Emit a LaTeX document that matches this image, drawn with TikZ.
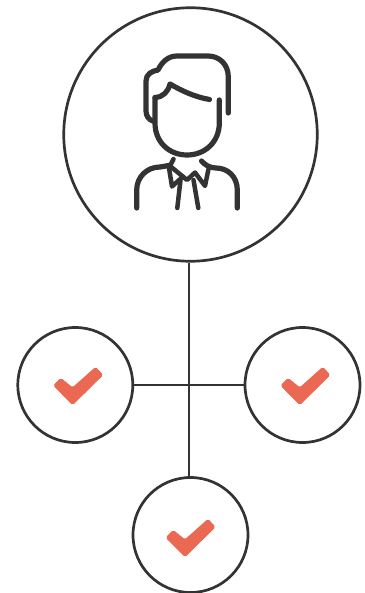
\documentclass[tikz,border=0pt]{standalone}
\usepackage{xcolor}
\usepackage{tikz}
\usetikzlibrary{calc}
\definecolor{koyuGri}{HTML}{333333}
\definecolor{tikKirmizi}{HTML}{EB6853}
\tikzset{
  halka/.style={draw=koyuGri,circle,line width=2.7pt,inner sep=0pt,fill=white},
  baglanti/.style={draw=koyuGri,line width=2.7pt},
  ikon/.style={draw=koyuGri,line width=5.2pt,line cap=round,line join=round},
  tik/.style={fill=tikKirmizi,draw=tikKirmizi,line width=1pt,rounded corners=1.6pt}
}

\begin{document}
\begin{tikzpicture}[x=1pt,y=-1pt]
\useasboundingbox (0,0) rectangle (364,593);
\coordinate (merkez) at (189,385);
% Halkalar
\node[halka,minimum size=253.5pt] (patron) at (190.5,134.5) {};
\node[halka,minimum size=115pt] (solHalka) at (75.3,385) {};
\node[halka,minimum size=115pt] (sagHalka) at (302.5,385) {};
\node[halka,minimum size=115pt] (altHalka) at (190.5,535) {};
% Baglantilar
\draw[baglanti] (merkez|-patron.south)--(merkez|-altHalka.north);
\draw[baglanti] (solHalka.east)--(sagHalka.west);
% Sac
\draw[ikon] (228.3,113) -- (228.3,77) .. controls (228.3,64) and (219,56) .. (208,56)
  -- (177,56) .. controls (168,56) and (162,62) .. (158,70)
  .. controls (152,71) and (146,74) .. (146,81) -- (146,111)
  .. controls (146,116) and (149,120) .. (153,121);
\draw[ikon] (209.5,99.5) .. controls (195,97) and (182,91) .. (170,84)
  .. controls (168,92) and (163,97) .. (155,97.5);
% Yuz
\draw[ikon] (155,97.5) -- (155,123) .. controls (155,142) and (169,155) .. (187,155)
  .. controls (205,155) and (219.3,142) .. (219.3,123) -- (219.3,100);
% Omuzlar
\draw[ikon] (136.7,208) -- (136.7,190) .. controls (136.7,177) and (147,167) .. (160,167) -- (169,165.5);
\draw[ikon] (237.3,208) -- (237.3,190) .. controls (237.3,177) and (228,168) .. (216,168)
  .. controls (210,168) and (205,165) .. (201.5,161);
% Yaka
\draw[ikon,line width=4.5pt] (173.5,159) -- (169,168) -- (172,186.5) -- (183,176.5);
\draw[ikon,line width=4.5pt] (170,166) -- (187,180) -- (195,172.5) -- (205,186) -- (208.5,169);
% Kravat
\draw[ikon,line width=4.5pt] (180.5,180) -- (177.3,208);
\draw[ikon,line width=4.5pt] (193.5,180) -- (198.3,208);
% Tikler
\foreach \nm/\dx/\dy in {solHalka/0/0,sagHalka/0/0,altHalka/-2.8/2}
  \draw[tik] ($(\nm)+(\dx,\dy)+(-14.5,-6.5)$) -- ($(\nm)+(\dx,\dy)+(-21.5,0.5)$)
    -- ($(\nm)+(\dx,\dy)+(-2.7,19.5)$) -- ($(\nm)+(\dx,\dy)+(27.3,-10)$)
    -- ($(\nm)+(\dx,\dy)+(20.3,-17.5)$) -- ($(\nm)+(\dx,\dy)+(-2.7,3)$) -- cycle;
\end{tikzpicture}
\end{document}
